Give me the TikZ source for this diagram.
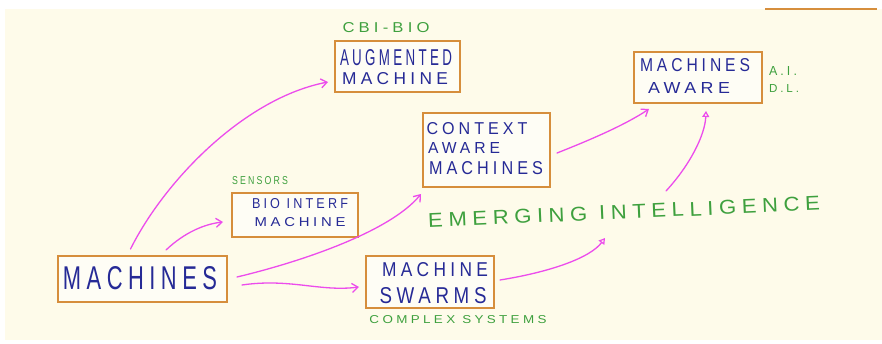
\documentclass[tikz,border=0pt]{standalone}
\usepackage{fontspec}
\usepackage{graphicx}
\setmainfont[LetterSpace=25]{Liberation Sans}
\usetikzlibrary{arrows.meta}
\definecolor{cream}{RGB}{254,251,234}
\definecolor{boxorange}{RGB}{214,142,60}
\definecolor{inkblue}{RGB}{38,42,150}
\definecolor{inkgreen}{RGB}{62,160,62}
\definecolor{inkpink}{RGB}{236,76,236}
\newcommand\hw[3]{\resizebox{#1pt}{#2pt}{#3}}
\tikzset{
  hbox/.style={draw=boxorange, line width=2pt, inner sep=0pt, fill=white, fill opacity=0.55, text opacity=1},
  bluetxt/.style={text=inkblue, inner sep=0pt},
  greentxt/.style={text=inkgreen, inner sep=0pt},
  pinkarrow/.style={draw=inkpink, line width=1.3pt, line cap=round, -{Straight Barb[length=6pt,width=9pt,line width=1.3pt]}},
  pinkopen/.style={draw=inkpink, line width=1.3pt, line cap=round, -{Triangle[open,length=6pt,width=7pt,line width=1.2pt]}}
}
\begin{document}
\begin{tikzpicture}[x=1pt,y=-1pt]
\useasboundingbox (0,0) rectangle (882,344);
\fill[white] (0,0) rectangle (882,344);
\fill[cream] (5,9) rectangle (882,340);
\draw[boxorange, line width=2pt] (765,9) -- (877,9);

% boxes
\node[hbox, minimum width=169pt, minimum height=46pt] (m) at (142.5,279) {};
\node[hbox, minimum width=128pt, minimum height=52pt] (sw) at (430,282) {};
\node[hbox, minimum width=126pt, minimum height=44pt] (bio) at (295,215) {};
\node[hbox, minimum width=125pt, minimum height=51pt] (aug) at (397.5,66.5) {};
\node[hbox, minimum width=127pt, minimum height=74pt] (ctx) at (486.5,150) {};
\node[hbox, minimum width=128pt, minimum height=51pt] (ma) at (698,77.5) {};

% blue texts
\node[bluetxt] (tm) at (140,278) {\hw{154}{23}{MACHINES}};
\node[bluetxt] (taug1) at (396,58) {\hw{112}{16}{AUGMENTED}};
\node[bluetxt] (taug2) at (395,79) {\hw{106}{12}{MACHINE}};
\node[bluetxt] (tbio1) at (300,204) {\hw{96}{10}{BIO INTERF}};
\node[bluetxt] (tbio2) at (300,222) {\hw{91}{9}{MACHINE}};
\node[bluetxt] (tctx1) at (477,129) {\hw{101}{12}{CONTEXT}};
\node[bluetxt] (tctx2) at (464,148) {\hw{72}{11}{AWARE}};
\node[bluetxt] (tctx3) at (486,168) {\hw{114}{13}{MACHINES}};
\node[bluetxt] (tma1) at (695,65) {\hw{110}{13}{MACHINES}};
\node[bluetxt] (tma2) at (689,88) {\hw{82}{11}{AWARE}};
\node[bluetxt] (tsw1) at (435,270) {\hw{106}{14}{MACHINE}};
\node[bluetxt] (tsw2) at (433,296) {\hw{107}{16}{SWARMS}};

% green texts
\node[greentxt] (cbi) at (386,28) {\hw{87}{10}{CBI-BIO}};
\node[greentxt] (sens) at (260,181) {\hw{56}{8}{SENSORS}};
\node[greentxt] (ai) at (783,71) {\hw{28}{9}{A.I.}};
\node[greentxt] (dl) at (784,89) {\hw{30}{8}{D.L.}};
\node[greentxt] (cs) at (458,320) {\hw{177}{8}{COMPLEX SYSTEMS}};
\node[greentxt, rotate=2.5] (em) at (624,212) {\hw{392}{14}{EMERGING INTELLIGENCE}};

% connector end points
\coordinate (e5) at (605,238);
\coordinate (s6) at (666,191);

% arrows
\draw[pinkarrow] ([xshift=-12pt,yshift=6pt]m.north) .. controls (165,180) and (245,98) .. ([xshift=-6pt,yshift=-15.5pt]aug.west);
\draw[pinkarrow] ([xshift=23.5pt,yshift=5pt]m.north) .. controls (185,232) and (205,224) .. ([xshift=-8pt,yshift=-7pt]bio.west);
\draw[pinkarrow] ([xshift=9pt,yshift=2pt]m.east) .. controls (300,262) and (390,232) .. ([xshift=-1pt,yshift=-6pt]ctx.south west);
\draw[pinkarrow] ([xshift=14pt,yshift=-6pt]m.east) .. controls (290,278) and (320,292) .. ([xshift=-6pt,yshift=-5pt]sw.west);
\draw[pinkopen] ([xshift=5pt,yshift=2pt]sw.east) .. controls (550,272) and (590,258) .. (e5);
\draw[pinkopen] (s6) .. controls (690,165) and (705,135) .. ([xshift=8pt,yshift=-7pt]ma.south);
\draw[pinkarrow] ([xshift=6pt,yshift=-3pt]ctx.east) .. controls (590,140) and (625,125) .. ([xshift=16pt,yshift=-5pt]ma.south west);
\end{tikzpicture}
\end{document}
